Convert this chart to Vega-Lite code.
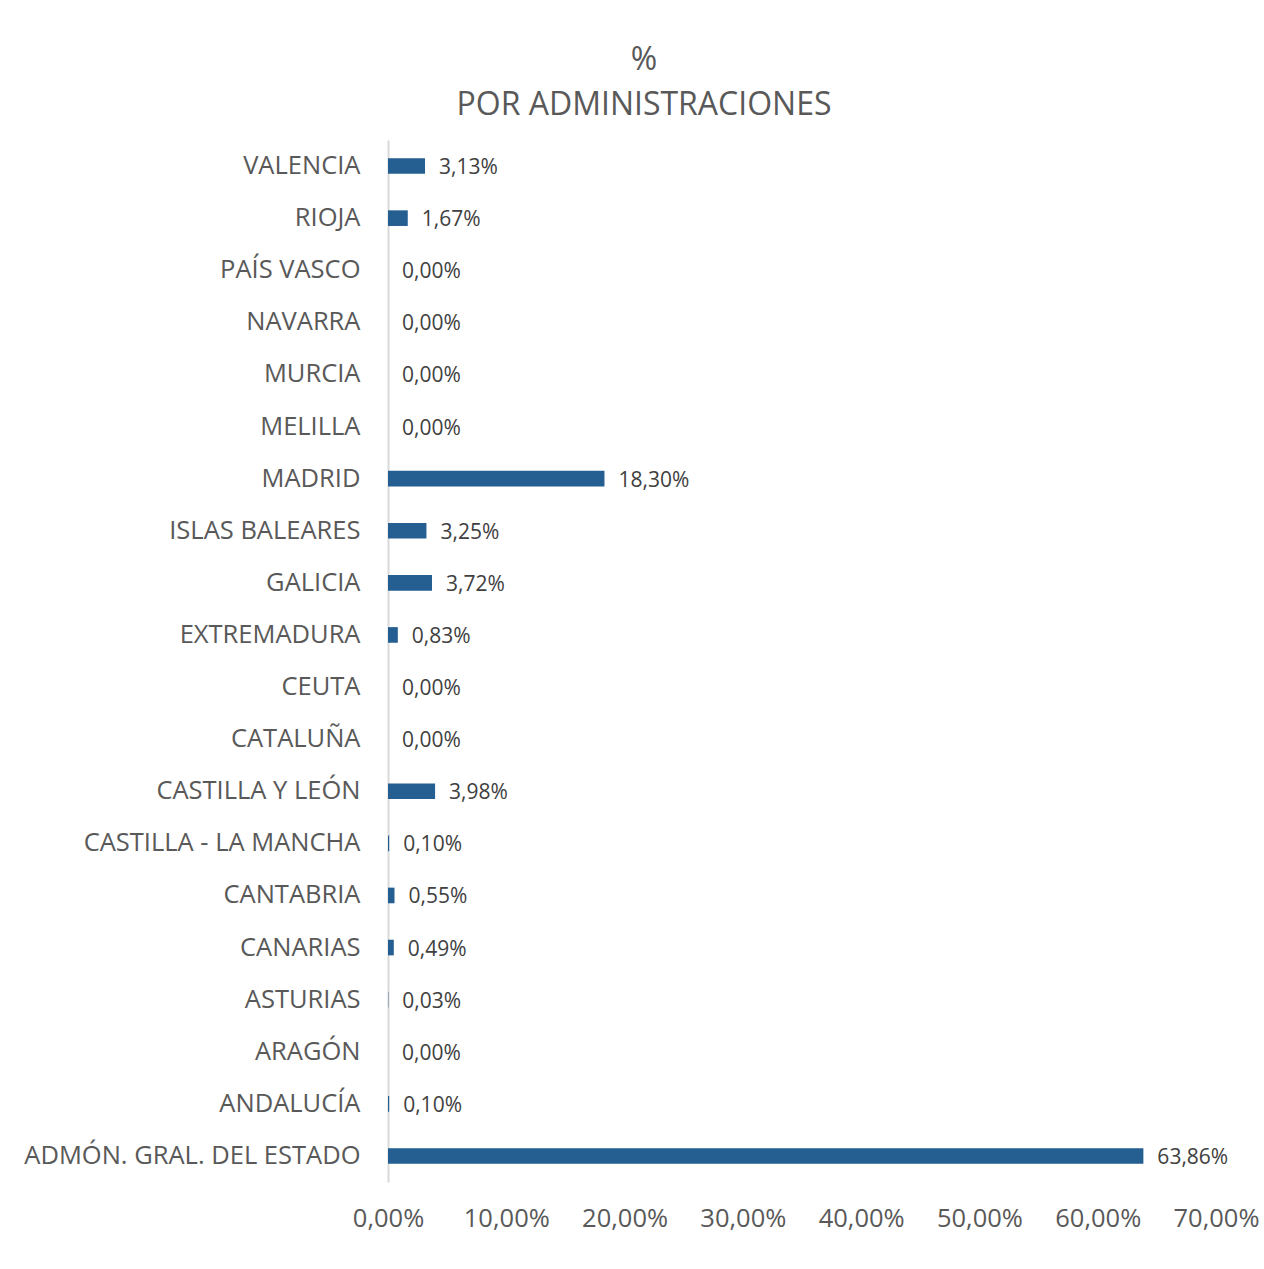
{
  "$schema": "https://vega.github.io/schema/vega-lite/v6.json",
  "autosize": {"type": "none"},
  "width": 828,
  "height": 1042,
  "padding": {"left": 388, "top": 140, "right": 48, "bottom": 87},
  "background": "white",
  "title": {
    "text": ["%", "POR ADMINISTRACIONES"],
    "font": "Open Sans",
    "fontSize": 32,
    "fontWeight": "normal",
    "color": "#595959",
    "anchor": "middle",
    "dx": -158,
    "offset": 18,
    "lineHeight": 45
  },
  "config": {
    "locale": {"number": {"decimal": ",", "thousands": ".", "grouping": [3], "currency": ["", " €"]}},
    "view": {"stroke": null},
    "font": "Open Sans"
  },
  "data": {
    "values": [
      {"admin": "VALENCIA", "pct": 0.0313},
      {"admin": "RIOJA", "pct": 0.0167},
      {"admin": "PAÍS VASCO", "pct": 0.0},
      {"admin": "NAVARRA", "pct": 0.0},
      {"admin": "MURCIA", "pct": 0.0},
      {"admin": "MELILLA", "pct": 0.0},
      {"admin": "MADRID", "pct": 0.183},
      {"admin": "ISLAS BALEARES", "pct": 0.0325},
      {"admin": "GALICIA", "pct": 0.0372},
      {"admin": "EXTREMADURA", "pct": 0.0083},
      {"admin": "CEUTA", "pct": 0.0},
      {"admin": "CATALUÑA", "pct": 0.0},
      {"admin": "CASTILLA Y LEÓN", "pct": 0.0398},
      {"admin": "CASTILLA - LA MANCHA", "pct": 0.001},
      {"admin": "CANTABRIA", "pct": 0.0055},
      {"admin": "CANARIAS", "pct": 0.0049},
      {"admin": "ASTURIAS", "pct": 0.0003},
      {"admin": "ARAGÓN", "pct": 0.0},
      {"admin": "ANDALUCÍA", "pct": 0.001},
      {"admin": "ADMÓN. GRAL. DEL ESTADO", "pct": 0.6386}
    ]
  },
  "encoding": {
    "y": {
      "field": "admin",
      "type": "nominal",
      "sort": null,
      "scale": {"paddingInner": 0.7, "paddingOuter": 0.35},
      "axis": {
        "title": null,
        "ticks": false,
        "domain": true,
        "domainColor": "#d9d9d9",
        "domainWidth": 2,
        "labelFontSize": 25.5,
        "labelColor": "#595959",
        "labelPadding": 28,
        "labelLimit": 400,
        "labelFont": "Open Sans"
      }
    },
    "x": {
      "field": "pct",
      "type": "quantitative",
      "scale": {"domain": [0, 0.7], "nice": false},
      "axis": {
        "title": null,
        "values": [0, 0.1, 0.2, 0.3, 0.4, 0.5, 0.6, 0.7],
        "format": ".2%",
        "grid": false,
        "domain": false,
        "ticks": false,
        "labelFontSize": 25.5,
        "labelColor": "#595959",
        "labelPadding": 24,
        "labelFont": "Open Sans",
        "labelFlush": false
      }
    }
  },
  "layer": [
    {"mark": {"type": "bar", "color": "#255e91"}},
    {
      "mark": {"type": "text", "align": "left", "baseline": "middle", "dx": 14, "dy": 2, "fontSize": 21, "color": "#404040", "font": "Open Sans"},
      "encoding": {"text": {"field": "pct", "type": "quantitative", "format": ".2%"}}
    }
  ]
}
